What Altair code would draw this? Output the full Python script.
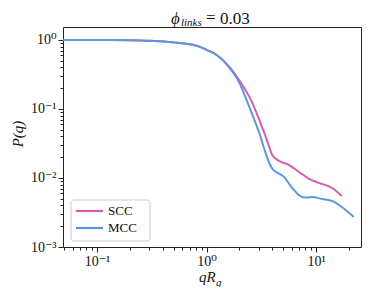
import altair as alt
import pandas as pd

# ---- data ----
mcc_q = [0.049, 0.1, 0.2, 0.3, 0.45, 0.6, 0.75, 0.86, 1.0, 1.23, 1.62, 2.0, 2.36, 2.85, 3.03, 3.37,
         3.74, 4.0, 4.33, 5.12, 6.05, 7.46, 8.3, 9.2, 11.3, 14.0, 16.2, 22.1]
mcc_p = [1.0, 0.997, 0.987, 0.97, 0.935, 0.895, 0.85, 0.80, 0.72, 0.61, 0.393, 0.238, 0.126, 0.0586, 0.0449, 0.0263,
         0.0165, 0.0135, 0.0122, 0.0103, 0.00716, 0.0053, 0.0052, 0.0053, 0.00497, 0.00465, 0.00406, 0.00272]

scc_q = [0.049, 0.1, 0.2, 0.3, 0.45, 0.6, 0.75, 0.86, 1.0, 1.23, 1.62, 2.04, 2.57, 3.16, 3.37, 3.66,
         3.98, 4.61, 5.68, 7.0, 8.63, 10.6, 14.0, 17.2]
scc_p = [1.0, 0.997, 0.987, 0.97, 0.935, 0.895, 0.85, 0.80, 0.72, 0.61, 0.406, 0.246, 0.131, 0.0586, 0.0449, 0.031,
         0.0215, 0.0176, 0.0154, 0.0122, 0.0097, 0.0085, 0.00716, 0.00548]

series = ["SCC", "MCC"]
colors = ["#D95BAA", "#5B98DD"]

x_major = [0.1, 1, 10]
x_minor = [0.05, 0.06, 0.07, 0.08, 0.09, 0.2, 0.3, 0.4, 0.5, 0.6, 0.7, 0.8, 0.9,
           2, 3, 4, 5, 6, 7, 8, 9, 20]
y_major = [1, 0.1, 0.01, 0.001]
y_minor = [m * d for d in [0.001, 0.01, 0.1] for m in range(2, 10)]

x_domain = [0.049, 25.7]
y_domain = [0.001, 1.54]

FONT = "Liberation Serif, DejaVu Serif, serif"

df_scc = pd.DataFrame({"q": scc_q, "P": scc_p, "s": "SCC"})
df_mcc = pd.DataFrame({"q": mcc_q, "P": mcc_p, "s": "MCC"})

label_expr = ("datum.value >= 9 ? '10¹' : datum.value >= 0.9 ? '10⁰' : datum.value >= 0.09 ? '10⁻¹' : "
              "datum.value >= 0.009 ? '10⁻²' : '10⁻³'")

xscale = alt.Scale(type="log", domain=x_domain, nice=False)
yscale = alt.Scale(type="log", domain=y_domain, nice=False)
cscale = alt.Scale(domain=series, range=colors)

major_x = alt.Axis(values=x_major, labelExpr=label_expr, grid=False, domain=False, tickSize=5,
                   tickColor="#222", labelFont=FONT, labelFontSize=14, labelColor="#111",
                   title=None, orient="bottom", labelPadding=2)
major_y = alt.Axis(values=y_major, labelExpr=label_expr, grid=False, domain=False, tickSize=5,
                   tickColor="#222", labelFont=FONT, labelFontSize=14, labelColor="#111",
                   title=None, orient="left", labelPadding=2)
minor_x = alt.Axis(values=x_minor, labels=False, grid=False, domain=False, tickSize=3,
                   tickColor="#222", title=None, orient="bottom")
minor_y = alt.Axis(values=y_minor, labels=False, grid=False, domain=False, tickSize=3,
                   tickColor="#222", title=None, orient="left")

scc_line = alt.Chart(df_scc).mark_line(strokeWidth=2, interpolate="monotone").encode(
    x=alt.X("q:Q", scale=xscale, axis=major_x),
    y=alt.Y("P:Q", scale=yscale, axis=major_y),
    color=alt.Color("s:N", scale=cscale, legend=None),
)
mcc_line = alt.Chart(df_mcc).mark_line(strokeWidth=2, interpolate="monotone").encode(
    x=alt.X("q:Q", scale=xscale, axis=minor_x),
    y=alt.Y("P:Q", scale=yscale, axis=minor_y),
    color=alt.Color("s:N", scale=cscale, legend=None),
)

one = pd.DataFrame({"a": [0]})

def txt(text, x, y, size, italic=False, angle=0, align="left", baseline="alphabetic"):
    kw = dict(text=text, font=FONT, fontSize=size, color="#111", align=align, baseline=baseline)
    if italic:
        kw["fontStyle"] = "italic"
    if angle:
        kw["angle"] = angle
    return alt.Chart(one).mark_text(**kw).encode(x=alt.value(x), y=alt.value(y))

# legend (box, sample lines, labels)
legend_box = alt.Chart(one).mark_rect(fill="white", fillOpacity=0.8, stroke="#cccccc",
                                      strokeWidth=1, cornerRadius=3).encode(
    x=alt.value(8), x2=alt.value(87), y=alt.value(173), y2=alt.value(214))
legend_parts = [legend_box]
for i, (name, col) in enumerate(zip(series, colors)):
    yy = 184 + 17 * i
    legend_parts.append(alt.Chart(one).mark_rule(color=col, strokeWidth=2.2).encode(
        x=alt.value(13), x2=alt.value(40), y=alt.value(yy)))
    legend_parts.append(txt(name, 45, yy, 13, baseline="middle"))

texts = [
    txt("ϕ", 108, -3, 17, italic=True),
    txt("links", 118, -1, 11, italic=True),
    txt("=", 143, -4, 17),
    txt("0.03", 157, -3, 17),
    txt("qR", 136, 255, 15, italic=True),
    txt("g", 153, 259, 11, italic=True),
    txt("P(q)", -45, 107, 15, italic=True, angle=270, align="center", baseline="middle"),
]

chart = alt.layer(scc_line, mcc_line, *legend_parts, *texts).resolve_axis(
    x="independent", y="independent"
).properties(
    width=298, height=220,
    autosize=alt.AutoSizeParams(type="none"),
    padding={"left": 55, "top": 19, "right": 5, "bottom": 40},
).configure_view(stroke="#222", strokeWidth=1)

chart.save("out.html", embed_options={"renderer": "svg", "actions": False})
